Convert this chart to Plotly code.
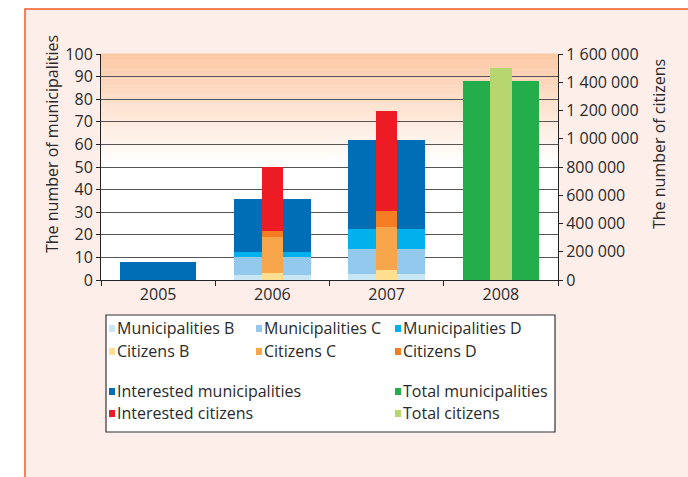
import plotly.graph_objects as go

# ---------------- data ----------------
years = ['2005', '2006', '2007', '2008']

# municipalities (left axis) - stacked segments
mun_b = [None, 2, 2.7, None]
mun_c = [None, 8, 11, None]
mun_d = [None, 2.5, 8.8, None]
mun_interested = [8, 23.5, 39.5, None]
mun_total = [None, None, None, 88]
mun_interested_centre = [8, None, None, None]   # 2005 centre column

# citizens (right axis) - stacked segments
cit_b = [None, 50000, 70000, None]
cit_c = [None, 255000, 305000, None]
cit_d = [None, 45000, 115000, None]
cit_interested = [None, 450000, 710000, None]
cit_total = [None, None, None, 1500000]

left_ticks = list(range(0, 101, 10))
right_ticks = list(range(0, 1600001, 200000))

colors = {
    'Municipalities B': '#C8E6F3',
    'Municipalities C': '#93C9EC',
    'Municipalities D': '#00B1EE',
    'Citizens B': '#FEDF90',
    'Citizens C': '#F8A64B',
    'Citizens D': '#F47C22',
    'Interested municipalities': '#006EB6',
    'Interested citizens': '#ED1C24',
    'Total municipalities': '#23AE4B',
    'Total citizens': '#B8D66F',
}

# ---------------- geometry ----------------
W, H = 688, 477
ML, MR, MT, MB = 101, 130, 54, 197
PW, PH = W - ML - MR, H - MT - MB


def fx(px):
    return (px - ML) / PW


def fy(py):
    return (H - MB - py) / PH


SIDE_W, MID_W = 0.24, 0.19
OFF_L, OFF_M, OFF_R = -0.335, -0.095, 0.095

fig = go.Figure()


def add_stack(series, axis, offset, width):
    base = [0.0] * len(years)
    for name, vals in series:
        fig.add_trace(go.Bar(
            x=years, y=vals, base=list(base), name=name,
            offset=offset, width=width, yaxis=axis,
            marker=dict(color=colors[name], line=dict(width=0)),
            showlegend=False,
        ))
        base = [b + (v or 0) for b, v in zip(base, vals)]


mun_series = [
    ('Municipalities B', mun_b),
    ('Municipalities C', mun_c),
    ('Municipalities D', mun_d),
    ('Interested municipalities', mun_interested),
    ('Total municipalities', mun_total),
]
cit_series = [
    ('Citizens B', cit_b),
    ('Citizens C', cit_c),
    ('Citizens D', cit_d),
    ('Interested citizens', cit_interested),
    ('Total citizens', cit_total),
]

add_stack(mun_series, 'y', OFF_L, SIDE_W)
add_stack(mun_series, 'y', OFF_R, SIDE_W)
add_stack([('Interested municipalities', mun_interested_centre)], 'y', OFF_M, MID_W)
add_stack(cit_series, 'y2', OFF_M, MID_W)

# ---------------- background shapes ----------------
shapes = []
# pink frame
shapes.append(dict(type='rect', xref='paper', yref='paper',
                   x0=fx(25), x1=fx(W + 20), y0=fy(9), y1=fy(H + 20),
                   fillcolor='#FDEEEA', line=dict(color='#F05A28', width=1.5),
                   layer='below'))
# white plot area
shapes.append(dict(type='rect', xref='paper', yref='paper',
                   x0=0, x1=1, y0=0, y1=1, fillcolor='white',
                   line=dict(width=0), layer='below'))
# gradient strips
g0, g1 = 52, 100
top_rgb = (252, 200, 164)
n = 48
for i in range(n):
    a = g0 + (g1 - g0) * i / n
    b = g0 + (g1 - g0) * (i + 1) / n
    t = (i + 0.5) / n
    r = round(255 + (top_rgb[0] - 255) * t)
    g = round(255 + (top_rgb[1] - 255) * t)
    bl = round(255 + (top_rgb[2] - 255) * t)
    shapes.append(dict(type='rect', xref='paper', yref='paper',
                       x0=0, x1=1, y0=a / 100, y1=b / 100 + 0.002,
                       fillcolor=f'rgb({r},{g},{bl})', line=dict(width=0),
                       layer='below'))

# ---------------- manual legend ----------------
TXT = '#2a2a2a'
FONT = 'Open Sans'
shapes.append(dict(type='rect', xref='paper', yref='paper',
                   x0=fx(106), x1=fx(555), y0=fy(432), y1=fy(315),
                   fillcolor='white', line=dict(color='#333333', width=1.2),
                   layer='above'))

legend_layout = [
    ('Municipalities B', 0, 328), ('Municipalities C', 1, 328), ('Municipalities D', 2, 328),
    ('Citizens B', 0, 351), ('Citizens C', 1, 351), ('Citizens D', 2, 351),
    ('Interested municipalities', 0, 391), ('Total municipalities', 2, 391),
    ('Interested citizens', 0, 413), ('Total citizens', 2, 413),
]
col_sym = [109, 256, 395]
annotations = []
for name, col, yc in legend_layout:
    sx = col_sym[col]
    shapes.append(dict(type='rect', xref='paper', yref='paper',
                       x0=fx(sx), x1=fx(sx + 6), y0=fy(yc + 4), y1=fy(yc - 3),
                       fillcolor=colors[name], line=dict(width=0), layer='above'))
    annotations.append(dict(text=name, xref='paper', yref='paper',
                            x=fx(sx + 6), y=fy(yc), xanchor='left', yanchor='middle',
                            showarrow=False, font=dict(family=FONT, size=16, color=TXT)))

# axis titles
annotations.append(dict(text='The number of municipalities', xref='paper', yref='paper',
                        x=fx(52), y=fy(144), textangle=-90, showarrow=False,
                        xanchor='center', yanchor='middle',
                        font=dict(family=FONT, size=16, color=TXT)))
annotations.append(dict(text='The number of citizens', xref='paper', yref='paper',
                        x=fx(659), y=fy(144), textangle=-90, showarrow=False,
                        xanchor='center', yanchor='middle',
                        font=dict(family=FONT, size=16, color=TXT)))

fig.update_layout(
    width=W, height=H, autosize=False,
    margin=dict(l=ML, r=MR, t=MT, b=MB, pad=0),
    paper_bgcolor='white', plot_bgcolor='rgba(0,0,0,0)',
    barmode='overlay', bargap=0,
    separators='. ',
    font=dict(family=FONT, size=16, color=TXT),
    showlegend=False,
    shapes=shapes, annotations=annotations,
    xaxis=dict(type='category', categoryorder='array', categoryarray=years,
               range=[-0.5, 3.5], tickson='boundaries', ticks='outside',
               ticklen=5, tickcolor='#222', showline=True, linecolor='#222',
               linewidth=1, showgrid=False, zeroline=False,
               tickfont=dict(family=FONT, size=16, color=TXT)),
    yaxis=dict(range=[0, 100], tickvals=left_ticks, ticks='outside', ticklen=4,
               tickcolor='#222', showline=True, linecolor='#222', linewidth=1,
               showgrid=True, gridcolor='#555555', gridwidth=1, zeroline=False,
               tickfont=dict(family=FONT, size=16, color=TXT)),
    yaxis2=dict(range=[0, 1600000], tickvals=right_ticks, tickformat=',d',
                overlaying='y', side='right', ticks='outside', ticklen=4,
                tickcolor='#222', showline=True, linecolor='#222', linewidth=1,
                showgrid=False, zeroline=False,
                tickfont=dict(family=FONT, size=16, color=TXT)),
)

fig.write_html('out.html')
